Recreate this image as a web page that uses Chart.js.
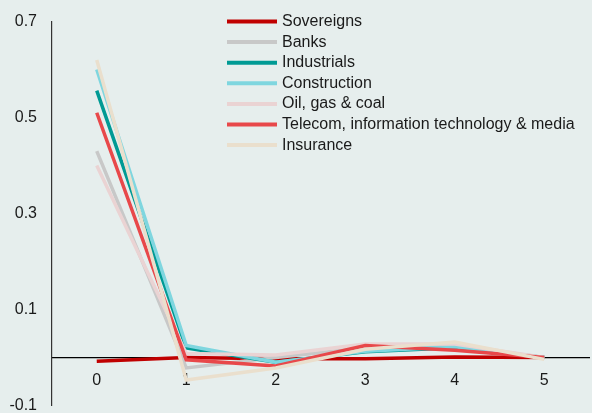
<!DOCTYPE html>
<html>
<head>
<meta charset="utf-8">
<script src="https://cdn.jsdelivr.net/npm/chart.js@4"></script>
<style>
  html, body { margin: 0; padding: 0; background: #e6eeed; overflow: hidden; }
  #wrap { width: 592px; height: 413px; overflow: hidden; }
  #myChart { display: block; margin-top: -3px; }
</style>
</head>
<body>
<div id="wrap"><canvas id="myChart" width="592" height="433"></canvas></div>
<script>
// datos
const xValues = [0, 1, 2, 3, 4, 5];
const yTicks = [-0.1, 0.1, 0.3, 0.5, 0.7];

const seriesNames = ["Sovereigns", "Banks", "Industrials", "Construction", "Oil, gas & coal", "Telecom, information technology & media", "Insurance"];
const seriesColors = ["#c00000", "#c8c8c8", "#009a94", "#7fd6df", "#ead3d3", "#e8484a", "#eadfcd"];

const sovereigns = [-0.008, 0.0, -0.003, -0.003, 0.001, 0.0];
const banks = [0.43, -0.022, 0.0, 0.02, 0.025, 0.0];
const industrials = [0.556, 0.02, -0.01, 0.012, 0.02, 0.0];
const construction = [0.60, 0.025, -0.01, 0.013, 0.022, 0.0];
const oilGasCoal = [0.40, 0.008, 0.005, 0.028, 0.028, 0.0];
const telecom = [0.51, -0.005, -0.018, 0.025, 0.015, 0.0];
const insurance = [0.62, -0.047, -0.022, 0.017, 0.032, -0.004];

const seriesValues = [sovereigns, banks, industrials, construction, oilGasCoal, telecom, insurance];

const font = "'Liberation Sans', Arial, sans-serif";

// fondo del lienzo
const bgPlugin = {
  id: 'bg',
  beforeDraw(chart) {
    const ctx = chart.ctx;
    ctx.save();
    ctx.fillStyle = '#e6eeed';
    ctx.fillRect(0, 0, chart.width, chart.height);
    ctx.restore();
  }
};

// leyenda dentro del area del grafico (el lienzo va 3px hacia arriba)
const legendPlugin = {
  id: 'innerLegend',
  afterDraw(chart) {
    const ctx = chart.ctx;
    ctx.save();
    ctx.font = '16px ' + font;
    ctx.textBaseline = 'middle';
    chart.data.datasets.forEach((ds, i) => {
      const y = 24.5 + i * 20.6;
      ctx.strokeStyle = ds.borderColor;
      ctx.lineWidth = 4;
      ctx.beginPath();
      ctx.moveTo(227, y);
      ctx.lineTo(277, y);
      ctx.stroke();
      ctx.fillStyle = '#1a1a1a';
      ctx.fillText(ds.label, 282, y);
    });
    ctx.restore();
  }
};

const datasets = seriesNames.map((name, i) => ({
  label: name,
  data: xValues.map((x, j) => ({ x: x, y: seriesValues[i][j] })),
  borderColor: seriesColors[i],
  backgroundColor: seriesColors[i],
  borderWidth: 3.5,
  pointRadius: 0,
  tension: 0,
  order: seriesNames.length - i
}));

new Chart(document.getElementById('myChart'), {
  type: 'line',
  data: { datasets: datasets },
  options: {
    responsive: false,
    animation: false,
    layout: { padding: { left: 10, right: 3, top: 9, bottom: 0 } },
    plugins: { legend: { display: false }, tooltip: { enabled: false } },
    scales: {
      x: {
        type: 'linear',
        min: -0.5,
        max: 5.5,
        position: { y: 0 },
        afterFit: (scale) => { scale.height = 0; },
        afterBuildTicks: (scale) => { scale.ticks = xValues.map(v => ({ value: v })); },
        grid: { display: false, drawTicks: false },
        border: { display: true, color: '#000000', width: 1.2 },
        ticks: { padding: 14, color: '#1a1a1a', font: { family: font, size: 16 } }
      },
      y: {
        min: -0.1,
        max: 0.7,
        afterFit: (scale) => { scale.width = 42; },
        afterBuildTicks: (scale) => { scale.ticks = yTicks.map(v => ({ value: v })); },
        grid: { display: false, drawTicks: false },
        border: { display: true, color: '#333333', width: 1.2 },
        ticks: {
          padding: 15,
          color: '#1a1a1a',
          font: { family: font, size: 16 },
          callback: (v) => v.toFixed(1)
        }
      }
    }
  },
  plugins: [bgPlugin, legendPlugin]
});
</script>
</body>
</html>
